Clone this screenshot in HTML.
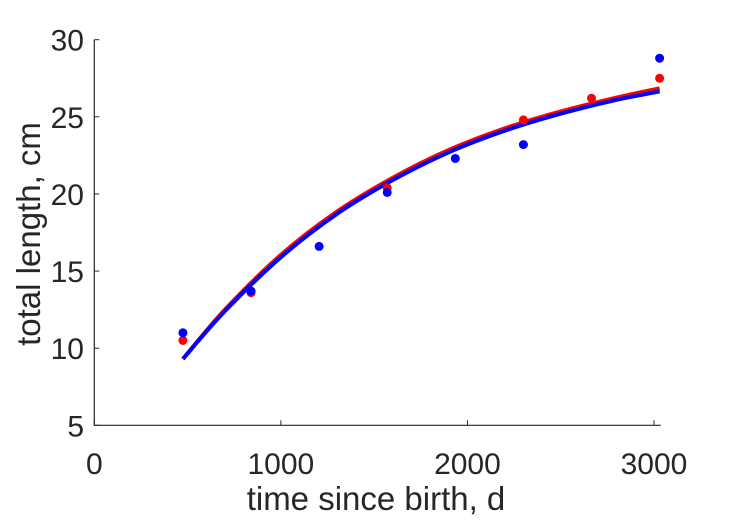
<!DOCTYPE html>
<html><head><meta charset="utf-8"><style>
body{margin:0;background:#fff;width:729px;height:521px;overflow:hidden}
text{font-family:"Liberation Sans",sans-serif;fill:#262626}
</style></head><body>
<svg id="chart" width="729" height="521" xmlns="http://www.w3.org/2000/svg"></svg>
<script>
const xTicks=[0,1000,2000,3000];
const yTicks=[5,10,15,20,25,30];
const blueT=[475,840,1205,1570,1935,2300,3030];
const blueL=[11.0,13.7,16.6,20.1,22.3,23.2,28.8];
const redT=[475,840,1570,2300,2665,3030];
const redL=[10.5,13.6,20.4,24.8,26.2,27.5];
const curveT=[475,700,1000,1300,1600,1900,2200,2500,2800,3030];
const blueCurve=[9.3,12.4,15.9,18.7,20.9,22.7,24.1,25.2,26.1,26.65];
const redCurve=[9.3,12.5,16.05,18.85,21.05,22.85,24.25,25.35,26.25,26.85];
const NS="http://www.w3.org/2000/svg";
const svg=document.getElementById('chart');
const X=v=>94.3+v*0.18657, Y=v=>425.3-(v-5)*15.424;
function mk(tag,attrs){const e=document.createElementNS(NS,tag);for(const k in attrs)e.setAttribute(k,attrs[k]);svg.appendChild(e);return e;}
let a=mk('path',{d:`M${X(0)} ${Y(30)}V${Y(5)}H${X(3036)}`,fill:'none',stroke:'#262626','stroke-width':1.2});


xTicks.forEach(t=>{
 let l=mk('line',{x1:X(t),x2:X(t),y1:Y(5),y2:Y(5)-5,stroke:'#262626'});
 
 
 let tx=mk('text',{x:X(t),y:474,'text-anchor':'middle','font-size':30});tx.textContent=t;
 
 
});
yTicks.forEach(t=>{
 let l=mk('line',{x1:X(0),x2:X(0)+5,y1:Y(t),y2:Y(t),stroke:'#262626'});
 
 
 let tx=mk('text',{x:84,y:Y(t)+11,'text-anchor':'end','font-size':30});tx.textContent=t;
 
 
});
let xl=mk('text',{x:376,y:510,'text-anchor':'middle','font-size':33});xl.textContent='time since birth, d';


let yl=mk('text',{x:0,y:0,'text-anchor':'middle','font-size':33,transform:'translate(40,234) rotate(-90)'});yl.textContent='total length, cm';


function smooth(ts,ls){const p=ts.map((t,i)=>[X(t),Y(ls[i])]);let d=`M${p[0][0]} ${p[0][1]}`;
 for(let i=0;i<p.length-1;i++){const p0=p[Math.max(0,i-1)],p1=p[i],p2=p[i+1],p3=p[Math.min(p.length-1,i+2)];
  d+=`C${p1[0]+(p2[0]-p0[0])/6} ${p1[1]+(p2[1]-p0[1])/6} ${p2[0]-(p3[0]-p1[0])/6} ${p2[1]-(p3[1]-p1[1])/6} ${p2[0]} ${p2[1]}`;}return d;}
let rc=mk('path',{d:smooth(curveT,redCurve),fill:'none',stroke:'#ff0000','stroke-width':4});


let bc=mk('path',{d:smooth(curveT,blueCurve),fill:'none',stroke:'#0000ff','stroke-width':4});


redT.forEach((t,i)=>{let c=mk('circle',{cx:X(t),cy:Y(redL[i]),r:4.5,fill:'#ff0000'});
 
 });
blueT.forEach((t,i)=>{let c=mk('circle',{cx:X(t),cy:Y(blueL[i]),r:4.5,fill:'#0000ff'});
 
 });
</script>
</body></html>
